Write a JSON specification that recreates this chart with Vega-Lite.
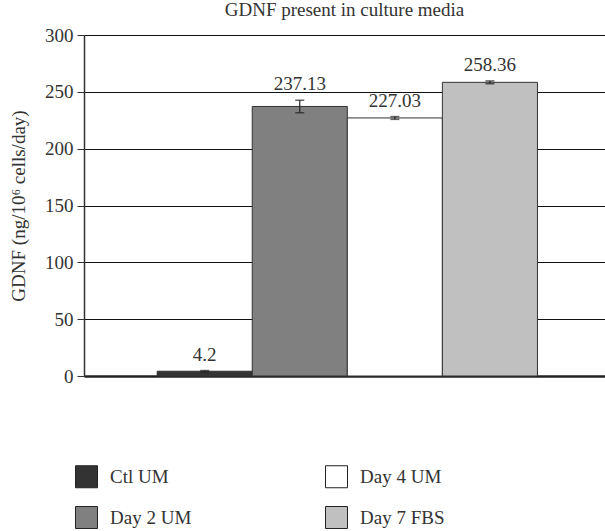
{
  "$schema": "https://vega.github.io/schema/vega-lite/v6.json",
  "autosize": {"type": "none"},
  "width": 521,
  "height": 341,
  "padding": {"left": 84, "top": 35, "right": 0, "bottom": 155},
  "background": "white",
  "config": {
    "font": "Liberation Serif",
    "view": {"stroke": null}
  },
  "title": {
    "text": "GDNF present in culture media",
    "font": "Liberation Serif",
    "fontSize": 19,
    "fontWeight": "normal",
    "color": "#333333",
    "offset": 6,
    "anchor": "middle"
  },
  "data": {
    "values": [
      {"group": "Ctl UM", "value": 4.2, "lo": 3.6, "hi": 4.8, "label": "4.2"},
      {"group": "Day 2 UM", "value": 237.13, "lo": 231.6, "hi": 242.6, "label": "237.13"},
      {"group": "Day 4 UM", "value": 227.03, "lo": 225.8, "hi": 228.2, "label": "227.03"},
      {"group": "Day 7 FBS", "value": 258.36, "lo": 257.1, "hi": 259.6, "label": "258.36"}
    ]
  },
  "encoding": {
    "x": {
      "field": "group",
      "type": "nominal",
      "sort": ["Ctl UM", "Day 2 UM", "Day 4 UM", "Day 7 FBS"],
      "scale": {"paddingInner": 0, "paddingOuter": 0.74, "align": 0.52},
      "axis": {
        "title": null,
        "labels": false,
        "ticks": false,
        "domain": true,
        "domainColor": "#222222",
        "domainWidth": 2.5
      }
    }
  },
  "layer": [
    {
      "mark": {"type": "bar", "stroke": "#333333", "strokeWidth": 1},
      "encoding": {
        "y": {
          "field": "value",
          "type": "quantitative",
          "scale": {"domain": [0, 300], "nice": false},
          "axis": {
            "values": [0, 50, 100, 150, 200, 250, 300],
            "title": "GDNF (ng/10⁶ cells/day)",
            "titleFont": "Liberation Serif",
            "titleFontSize": 19,
            "titleFontWeight": "normal",
            "titleColor": "#333333",
            "titlePadding": 16,
            "labelFont": "Liberation Serif",
            "labelFontSize": 19,
            "labelColor": "#333333",
            "labelPadding": 4,
            "tickColor": "#333333",
            "tickSize": 7,
            "domainColor": "#333333",
            "domainWidth": 1.5,
            "grid": true,
            "gridColor": "#111111",
            "gridWidth": 1.2
          }
        },
        "fill": {
          "field": "group",
          "type": "nominal",
          "scale": {
            "domain": ["Ctl UM", "Day 2 UM", "Day 4 UM", "Day 7 FBS"],
            "range": ["#333333", "#808080", "#ffffff", "#c0c0c0"]
          },
          "legend": {
            "orient": "none",
            "legendX": -9,
            "legendY": 430,
            "title": null,
            "columns": 2,
            "symbolType": "square",
            "symbolSize": 484,
            "symbolStrokeColor": "#222222",
            "symbolStrokeWidth": 1,
            "symbolOffset": 0,
            "labelFont": "Liberation Serif",
            "labelFontSize": 19,
            "labelColor": "#333333",
            "labelOffset": 12,
            "columnPadding": 131,
            "rowPadding": 14
          }
        }
      }
    },
    {
      "mark": {"type": "rule", "color": "#222222", "strokeWidth": 1.2},
      "encoding": {
        "y": {"field": "lo", "type": "quantitative"},
        "y2": {"field": "hi"}
      }
    },
    {
      "mark": {"type": "tick", "color": "#222222", "thickness": 1.5, "size": 9},
      "encoding": {
        "y": {"field": "lo", "type": "quantitative"}
      }
    },
    {
      "mark": {"type": "tick", "color": "#222222", "thickness": 1.5, "size": 9},
      "encoding": {
        "y": {"field": "hi", "type": "quantitative"}
      }
    },
    {
      "mark": {
        "type": "text",
        "baseline": "alphabetic",
        "dy": -10,
        "font": "Liberation Serif",
        "fontSize": 19,
        "color": "#333333"
      },
      "encoding": {
        "y": {"field": "hi", "type": "quantitative"},
        "text": {"field": "label", "type": "nominal"}
      }
    }
  ]
}
